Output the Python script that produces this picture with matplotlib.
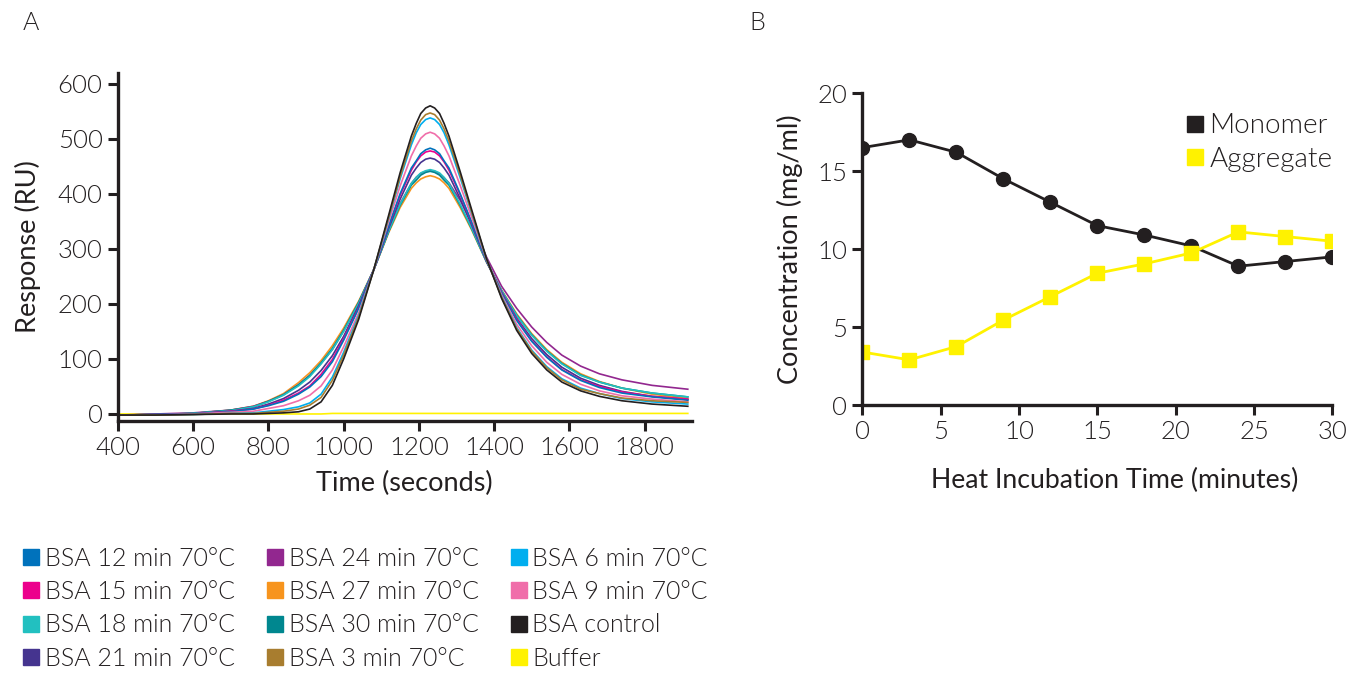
import matplotlib.pyplot as plt
from matplotlib.lines import Line2D

plt.rcParams['font.family'] = ['Lato', 'DejaVu Sans']
plt.rcParams['font.weight'] = 300
TXT = '#231F20'

# ---- panel A: sensorgram readings (RU) ----
time_s = [400, 500, 600, 700, 760, 800, 840, 880, 910, 940, 970, 1000, 1040, 1080, 1120, 1150, 1180,
          1193, 1205, 1218, 1230, 1242, 1255, 1267, 1280,
          1310, 1340, 1380, 1420, 1460, 1500, 1540, 1580, 1630, 1680, 1740, 1820, 1915]

bsa_12 = [-2, -1, 0, 4, 9, 15, 23, 36, 49, 68, 95, 134, 192, 262, 342, 400, 447,
          460, 473, 480, 483, 480, 473, 460, 447,
          400, 349, 278, 219, 170, 132, 103, 80, 61, 48, 38, 31, 25]
bsa_15 = [-2, -1, 0, 5, 9, 16, 25, 38, 51, 72, 99, 137, 193, 262, 342, 397, 443,
          458, 469, 476, 478, 476, 469, 458, 443,
          398, 348, 278, 220, 172, 133, 104, 81, 62, 50, 40, 32, 27]
bsa_18 = [-2, -1, 1, 6, 13, 22, 34, 51, 68, 91, 117, 150, 201, 262, 333, 381, 419,
          430, 438, 442, 444, 442, 438, 430, 419,
          381, 338, 277, 224, 179, 143, 114, 91, 70, 58, 47, 38, 31]
bsa_21 = [-2, -1, 0, 5, 10, 18, 28, 43, 58, 79, 106, 141, 197, 262, 338, 390, 434,
          447, 457, 463, 465, 463, 457, 447, 434,
          391, 344, 278, 221, 174, 137, 108, 85, 65, 52, 41, 32, 26]
bsa_24 = [-2, 0, 2, 7, 14, 23, 35, 53, 70, 92, 117, 151, 202, 262, 333, 382, 419,
          430, 437, 441, 442, 441, 436, 429, 420,
          388, 348, 285, 232, 192, 158, 130, 107, 87, 73, 62, 52, 45]
bsa_27 = [-2, -1, 1, 7, 14, 24, 37, 57, 75, 97, 124, 156, 205, 262, 330, 375, 410,
          420, 427, 431, 433, 431, 427, 420, 410,
          375, 335, 276, 225, 182, 146, 117, 94, 73, 59, 47, 36, 28]
bsa_30 = [-2, -1, 1, 7, 13, 23, 35, 53, 70, 93, 119, 152, 203, 262, 332, 379, 416,
          425, 434, 439, 441, 439, 434, 425, 416,
          379, 337, 276, 224, 180, 144, 115, 92, 71, 58, 47, 38, 31]
bsa_3 = [-2, -2, -1, 1, 1, 3, 5, 9, 16, 30, 61, 107, 176, 262, 358, 431, 496,
         518, 534, 544, 547, 544, 534, 518, 496,
         434, 368, 281, 212, 155, 114, 84, 62, 45, 37, 29, 24, 21]
bsa_6 = [-2, -2, -1, 1, 2, 5, 8, 13, 20, 36, 67, 112, 179, 262, 356, 427, 489,
         511, 526, 535, 538, 535, 526, 511, 489,
         429, 366, 281, 213, 157, 116, 86, 64, 47, 37, 28, 22, 18]
bsa_9 = [-2, -2, 0, 3, 5, 10, 15, 24, 34, 51, 80, 122, 184, 262, 350, 414, 469,
         487, 501, 509, 512, 509, 501, 487, 469,
         415, 358, 280, 216, 163, 124, 94, 72, 54, 42, 33, 27, 22]
bsa_control = [-2, -2, -1, 0, 0, 1, 2, 4, 9, 22, 52, 100, 172, 262, 362, 438, 505,
               528, 546, 556, 560, 556, 546, 528, 505,
               440, 372, 282, 210, 152, 110, 80, 58, 42, 32, 24, 18, 14]
buffer = [0, 0, 0, 0, 0, 0, 0, 0, 0, 0, 1, 1, 1, 1, 1, 1, 1,
          1, 1, 1, 1, 1, 1, 1, 1,
          1, 1, 1, 1, 1, 1, 1, 1, 1, 1, 1, 1, 1]

series_names = ['BSA 12 min 70°C', 'BSA 15 min 70°C', 'BSA 18 min 70°C', 'BSA 21 min 70°C',
                'BSA 24 min 70°C', 'BSA 27 min 70°C', 'BSA 30 min 70°C', 'BSA 3 min 70°C',
                'BSA 6 min 70°C', 'BSA 9 min 70°C', 'BSA control', 'Buffer']
series_values = [bsa_12, bsa_15, bsa_18, bsa_21, bsa_24, bsa_27, bsa_30, bsa_3,
                 bsa_6, bsa_9, bsa_control, buffer]
series_colors = ['#0072BC', '#EC008C', '#22C0C0', '#45348F', '#92278F', '#F7941D',
                 '#00878F', '#A87D2F', '#00AEEF', '#F06EAA', '#231F20', '#FFF200']
# drawing order: buffer first, then low peaks under high peaks
draw_order = [11, 5, 4, 6, 2, 3, 1, 0, 9, 8, 7, 10]

# ---- panel B: SEC concentrations ----
incubation_min = [0, 3, 6, 9, 12, 15, 18, 21, 24, 27, 30]
monomer = [16.5, 17.0, 16.2, 14.5, 13.0, 11.5, 10.9, 10.2, 8.9, 9.2, 9.5]
aggregate = [3.4, 2.9, 3.75, 5.45, 6.95, 8.45, 9.05, 9.75, 11.1, 10.8, 10.5]

fig = plt.figure(figsize=(13.56, 6.74), dpi=100)

def style_axes(ax):
    for side in ['top', 'right']:
        ax.spines[side].set_visible(False)
    for side in ['left', 'bottom']:
        ax.spines[side].set_linewidth(2.4)
        ax.spines[side].set_color(TXT)
    ax.tick_params(direction='out', length=7, width=2.2, color=TXT,
                   labelsize=18.5, labelcolor=TXT, pad=4)

# panel A
axA = fig.add_axes([0.087, 0.376, 0.423, 0.516])
for i in draw_order:
    axA.plot(time_s, series_values[i], color=series_colors[i], lw=1.2)
axA.set_xlim(400, 1925)
axA.set_ylim(-12, 620)
axA.set_xticks(range(400, 1801, 200))
axA.set_yticks(range(0, 601, 100))
style_axes(axA)
axA.set_xlabel('Time (seconds)', fontsize=19.5, color=TXT, labelpad=8)
axA.set_ylabel('Response (RU)', fontsize=19.5, color=TXT, labelpad=12)

# panel B
axB = fig.add_axes([0.636, 0.399, 0.3466, 0.463])
axB.plot(incubation_min, monomer, color=TXT, lw=2, marker='o', ms=10, label='Monomer')
axB.plot(incubation_min, aggregate, color='#FFF200', lw=2, marker='s', ms=9.5, label='Aggregate')
axB.set_xlim(0, 30)
axB.set_ylim(0, 20)
axB.set_xticks(range(0, 31, 5))
axB.set_yticks(range(0, 21, 5))
style_axes(axB)
axB.set_xlabel('Heat Incubation Time (minutes)', fontsize=19.2, color=TXT, labelpad=17)
axB.xaxis.label.set_x(0.536)
axB.set_ylabel('Concentration (mg/ml)', fontsize=19.5, color=TXT, labelpad=10)
b_handles = [Line2D([], [], ls='none', marker='s', ms=11.5, color=TXT),
             Line2D([], [], ls='none', marker='s', ms=11.5, color='#FFF200')]
axB.legend(b_handles, ['Monomer', 'Aggregate'], loc='upper right', bbox_to_anchor=(1.053, 1.015),
           frameon=False, fontsize=20, handlelength=0.6, handletextpad=0.2,
           labelspacing=0.3, labelcolor=TXT)

# bottom legend for panel A
a_handles = [Line2D([], [], ls='none', marker='s', ms=12, color=c) for c in series_colors]
fig.legend(a_handles, series_names, loc='upper left', bbox_to_anchor=(0.0, 0.222),
           ncol=3, frameon=False, fontsize=18, handlelength=0.7, handletextpad=0.2,
           columnspacing=1.25, labelspacing=0.37, labelcolor=TXT)

fig.text(0.017, 0.955, 'A', fontsize=18, color=TXT)
fig.text(0.553, 0.955, 'B', fontsize=18, color=TXT)

fig.savefig('out.png', dpi=100)
